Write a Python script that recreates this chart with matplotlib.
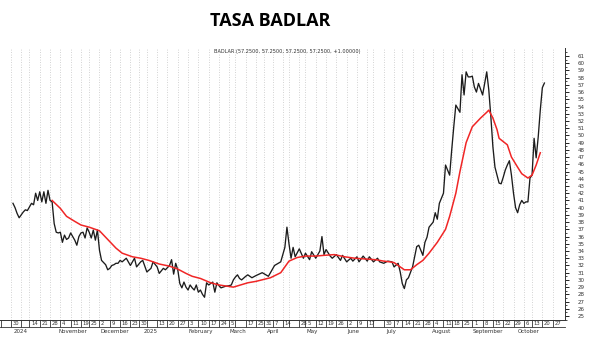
import numpy as np
import pandas as pd
import matplotlib.pyplot as plt
from matplotlib.lines import Line2D
from matplotlib.transforms import blended_transform_factory

# trading calendar (sessions counted from 2024-10-01)
inicio = "2024-10-01"
feriados = ["2024-10-11", "2024-11-18", "2024-12-25", "2025-01-01",
            "2025-03-03", "2025-03-04", "2025-03-24", "2025-04-02",
            "2025-04-17", "2025-04-18", "2025-05-01", "2025-05-02",
            "2025-06-16", "2025-06-20", "2025-07-09", "2025-08-15",
            "2025-10-10"]

# BADLAR rate, session number -> value
rueda_badlar = [0, 1, 2, 3, 4, 5, 6, 7, 8, 9, 10, 11, 12, 13, 14, 15, 16, 17, 18, 19,
                20, 21, 22, 23, 24, 25, 26, 27, 28, 29, 30, 31, 32, 33, 34, 35, 36, 37, 38, 39,
                40, 41, 42, 43, 44, 45, 46, 47, 48, 49, 50, 51, 52, 53, 55, 57, 59, 60, 62, 63,
                65, 67, 68, 70, 71, 73, 74, 76, 77, 78, 79, 80, 81, 82, 83, 84, 85, 86, 87, 88,
                89, 90, 91, 92, 93, 94, 95, 96, 97, 98, 99, 100, 101, 102, 103, 105, 106, 107, 108, 109,
                110, 111, 113, 114, 116, 118, 121, 124, 126, 127, 130, 131, 132, 133, 134, 135, 136, 137, 139, 141,
                142, 144, 145, 147, 148, 149, 150, 151, 152, 154, 155, 157, 159, 160, 162, 164, 165, 167, 168, 170,
                172, 173, 175, 177, 178, 180, 182, 184, 185, 187, 188, 189, 190, 191, 192, 194, 195, 196, 197, 198,
                199, 200, 201, 202, 204, 205, 206, 207, 209, 210, 211, 212, 213, 214, 215, 216, 217, 218, 219, 220,
                221, 222, 223, 224, 225, 226, 228, 229, 230, 231, 232, 233, 234, 235, 236, 237, 238, 239, 240, 241,
                242, 243, 244, 245, 246, 247, 248, 249, 250, 251, 252, 253, 254, 255, 256, 257, 258]
badlar = [40.6, 40.0, 39.2, 38.6, 39.0, 39.4, 39.7, 39.6, 40.1, 40.6, 40.4, 42.0, 41.0, 42.2, 40.8, 42.2, 40.6, 42.4, 41.0, 40.8,
          37.8, 36.6, 36.5, 36.6, 35.2, 36.2, 35.6, 35.8, 36.5, 36.0, 35.5, 34.8, 36.0, 36.5, 36.6, 35.8, 37.2, 36.6, 35.8, 36.9,
          35.5, 36.9, 34.1, 32.7, 32.4, 32.1, 31.4, 31.6, 32.0, 32.1, 32.3, 32.3, 32.7, 32.5, 33.0, 32.0, 33.0, 31.8, 32.5, 32.7,
          31.1, 31.6, 32.5, 31.8, 30.9, 31.6, 31.4, 32.0, 32.8, 30.8, 32.3, 31.4, 29.5, 28.9, 29.7, 29.0, 28.6, 29.3, 28.9, 28.6,
          29.3, 28.3, 28.6, 28.0, 27.6, 29.6, 29.3, 29.5, 29.7, 28.3, 29.6, 29.2, 28.9, 29.0, 29.1, 29.2, 29.3, 30.0, 30.4, 30.7,
          30.2, 30.0, 30.5, 30.7, 30.3, 30.6, 31.0, 30.5, 31.5, 32.0, 32.5, 33.5, 34.5, 37.3, 35.0, 33.0, 34.5, 33.2, 34.3, 33.0,
          33.7, 32.8, 33.9, 33.0, 33.5, 34.0, 36.0, 33.5, 34.2, 33.3, 33.0, 33.5, 32.7, 33.4, 32.5, 33.0, 32.6, 33.2, 32.5, 33.3,
          32.6, 33.2, 32.5, 33.0, 32.5, 32.3, 32.6, 32.5, 31.8, 32.3, 31.1, 29.5, 28.8, 30.0, 30.3, 31.8, 33.2, 34.6, 34.8, 34.1,
          33.4, 35.2, 35.9, 37.3, 38.0, 39.3, 38.4, 40.6, 42.0, 45.9, 45.2, 44.5, 48.0, 51.2, 54.2, 53.7, 53.2, 58.4, 55.6, 58.8,
          58.1, 58.1, 58.2, 56.7, 56.0, 57.2, 55.6, 57.2, 58.8, 56.3, 52.6, 48.4, 45.6, 44.5, 43.4, 43.3, 44.2, 45.2, 45.9, 46.5,
          44.5, 42.0, 40.0, 39.3, 40.4, 41.0, 40.6, 40.8, 40.8, 44.1, 44.5, 49.6, 46.9, 49.8, 53.5, 56.6, 57.25]

# moving average (red)
rueda_media = [19, 23, 26, 30, 33, 37, 42, 46, 50, 53, 58, 62, 66, 71, 76, 80, 84, 87, 91, 96,
               100, 107, 114, 118, 125, 130, 132, 134, 138, 142, 147, 151, 156, 161, 166, 171, 176, 180, 183, 185,
               188, 190, 193, 196, 199, 202, 206, 210, 212, 215, 217, 220, 223, 227, 230, 231, 233, 235, 236, 240,
               242, 245, 247, 250, 252, 254, 256]
media = [41.0, 39.9, 38.8, 38.1, 37.6, 37.3, 36.8, 35.6, 34.4, 33.7, 33.2, 33.0, 32.7, 32.2, 31.9, 31.5, 30.9, 30.5, 30.2, 29.6,
         29.3, 29.0, 29.6, 29.8, 30.3, 31.0, 31.8, 32.6, 33.1, 33.3, 33.3, 33.4, 33.5, 33.2, 33.0, 32.9, 32.8, 32.6, 32.5, 32.4,
         31.8, 31.4, 31.4, 32.1, 32.7, 33.7, 35.2, 37.0, 38.8, 42.0, 45.0, 49.0, 51.2, 52.4, 53.2, 53.5, 52.4, 50.8, 49.6, 48.7,
         47.0, 45.6, 44.7, 44.1, 44.5, 45.9, 47.6]

# axis text
semanas = pd.date_range("2024-09-30", "2025-10-27", freq="W-MON")
sin_etiqueta = ["2024-10-07", "2025-01-06", "2025-03-10", "2025-04-21", "2025-06-23"]
meses_fecha = ["2024-10-01", "2024-11-01", "2024-12-01", "2025-01-01", "2025-02-01", "2025-03-01",
               "2025-04-01", "2025-05-01", "2025-06-01", "2025-07-01", "2025-08-01", "2025-09-01",
               "2025-10-01"]
meses_texto = ["2024", "November", "December", "2025", "February", "March", "April", "May",
               "June", "July", "August", "September", "October"]


def sesion(fechas):
    return np.busday_count(inicio, np.array(fechas, dtype="datetime64[D]"), holidays=feriados)


fig = plt.figure(figsize=(6, 3.39), dpi=100)
ax = fig.add_axes([0, 19 / 339, 565 / 600, 272 / 339])

ax.plot(rueda_badlar, badlar, color="#1c1c1c", lw=0.95)
ax.plot(rueda_media, media, color="#f02626", lw=1.1)

ax.set_xlim(-6.3, 268)
ax.set_ylim(24.45, 62.1)

# x ticks: weekly, labelled in boxes
sem = semanas.values.astype("datetime64[D]")
pos = sesion(sem)
dia = np.busday_offset(sem, 0, roll="forward", holidays=feriados)
ax.set_xticks(pos)
ax.set_xticklabels([])
ax.tick_params(axis="x", direction="out", length=5, width=0.6, color="#333333")
ax.grid(axis="x", color="#c4c4c4", linestyle=(0, (1, 2)), linewidth=0.6)

trans = blended_transform_factory(ax.transData, ax.transAxes)
for p, s, d in zip(pos, sem, dia):
    if str(s) in sin_etiqueta:
        continue
    ax.text(p + 0.8, -0.013, str(int(str(d)[8:10])), transform=trans,
            fontsize=3.8, ha="left", va="center", color="#333333")

for f, t in zip(sesion(meses_fecha), meses_texto):
    ax.text(f + 0.3, -0.043, t, transform=trans, fontsize=4, ha="left", va="center",
            color="#333333", clip_on=False)

fig.add_artist(Line2D([0, 565 / 600], [12 / 339, 12 / 339], color="#333333", lw=0.6))
fig.add_artist(Line2D([0.5 / 600, 0.5 / 600], [12 / 339, 19 / 339], color="#333333", lw=0.6))

# y axis on the right
ax.yaxis.tick_right()
ax.set_yticks(range(25, 62))
ax.set_yticks(np.arange(24.5, 62, 1.0), minor=True)
ax.tick_params(axis="y", which="major", direction="out", length=3, width=0.6,
               labelsize=4, pad=6, labelcolor="#333333")
ax.tick_params(axis="y", which="minor", direction="out", length=1.5, width=0.5)

for s in ["left", "top"]:
    ax.spines[s].set_visible(False)
for s in ["right", "bottom"]:
    ax.spines[s].set_linewidth(0.7)
    ax.spines[s].set_color("#333333")

fig.text(287 / 600, 1 - 51 / 339, "BADLAR (57.2500, 57.2500, 57.2500, 57.2500, +1.00000)",
         fontsize=3.6, ha="center", va="center", color="#333333")
fig.text(270 / 600, 1 - 21 / 339, "TASA BADLAR", fontsize=13, fontweight="bold",
         family="Open Sans", ha="center", va="center")

fig.savefig("out.png", dpi=100)
